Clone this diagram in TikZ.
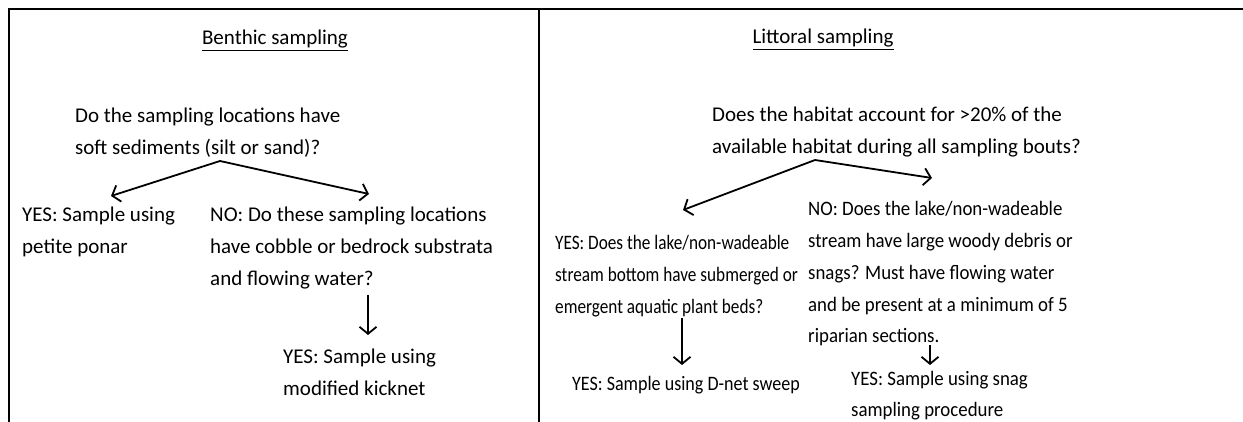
\documentclass[tikz,border=0pt]{standalone}
\usepackage{fontspec}
\setmainfont{Carlito}
\newfontfamily\condA[FakeStretch=0.84]{Carlito}
\newfontfamily\condB[FakeStretch=0.92]{Carlito}
\newfontfamily\condC[FakeStretch=0.88]{Carlito}
\usetikzlibrary{arrows.meta}
\newcommand{\tlines}[1]{\begin{tabular}[t]{@{}l@{}}#1\end{tabular}}
\begin{document}
\begin{tikzpicture}[x=1pt,y=-1pt,
  txt/.style={inner sep=0pt, anchor=base west, font=\fontsize{21}{32}\selectfont},
  stxt/.style={inner sep=0pt, anchor=base west, font=#1\fontsize{20.5}{31.7}\selectfont},
  ttl/.style={inner sep=0pt, anchor=base, font=\fontsize{21}{32}\selectfont},
  frame/.style={line width=2.6pt},
  arr/.style={line width=1.8pt, -{Straight Barb[length=7pt,width=17pt]}}]
\useasboundingbox[fill=white] (0,0) rectangle (1243,422);
\draw[frame] (9,422) -- (9,9) -- (1243,9);
\draw[frame] (539,9) -- (539,422);
% Left panel
\node[ttl] (btitle) at (275,45) {\underline{Benthic sampling}};
\node[txt] (q1) at (75,123) {\tlines{Do the sampling locations have\\soft sediments (silt or sand)?}};
\node[txt] (yes1) at (22,222) {\tlines{YES: Sample using\\petite ponar}};
\node[txt] (no1) at (210,222) {\tlines{NO: Do these sampling locations\\have cobble or bedrock substrata\\and flowing water?}};
\node[txt] (kick) at (283,363) {\tlines{YES: Sample using\\modified kicknet}};
\coordinate (a1) at (220,161);
\coordinate (a1l) at (111,196);
\coordinate (a1r) at (369,194);
\coordinate (d1s) at (368,295);
\coordinate (d1e) at (368,335);
\draw[arr] (a1) -- (a1l);
\draw[arr] (a1) -- (a1r);
\draw[arr] (d1s) -- (d1e);
% Right panel
\node[ttl] (ltitle) at (823,44) {\underline{Littoral sampling}};
\node[txt] (q2) at (712,121.5) {\tlines{Does the habitat account for >20\% of the\\available habitat during all sampling bouts?}};
\node[stxt=\condA] (yes2) at (555,250) {\tlines{YES: Does the lake/non-wadeable\\stream bottom have submerged or\\emergent aquatic plant beds?}};
\node[stxt=\condB] (no2) at (808,216) {\tlines{NO: Does the lake/non-wadeable\\stream have large woody debris or\\snags? Must have flowing water\\and be present at a minimum of 5\\riparian sections.}};
\node[stxt=\condC] (dnet) at (572,390) {YES: Sample using D-net sweep};
\node[stxt=\condB] (snag) at (851,385) {\tlines{YES: Sample using snag\\sampling procedure}};
\coordinate (a2) at (815,160);
\coordinate (a2l) at (683,210);
\coordinate (a2r) at (932,178);
\coordinate (d2s) at (682,318);
\coordinate (d2e) at (682,365);
\coordinate (d3s) at (930,345);
\coordinate (d3e) at (930,365);
\draw[arr] (a2) -- (a2l);
\draw[arr] (a2) -- (a2r);
\draw[arr] (d2s) -- (d2e);
\draw[arr] (d3s) -- (d3e);
\end{tikzpicture}
\end{document}
